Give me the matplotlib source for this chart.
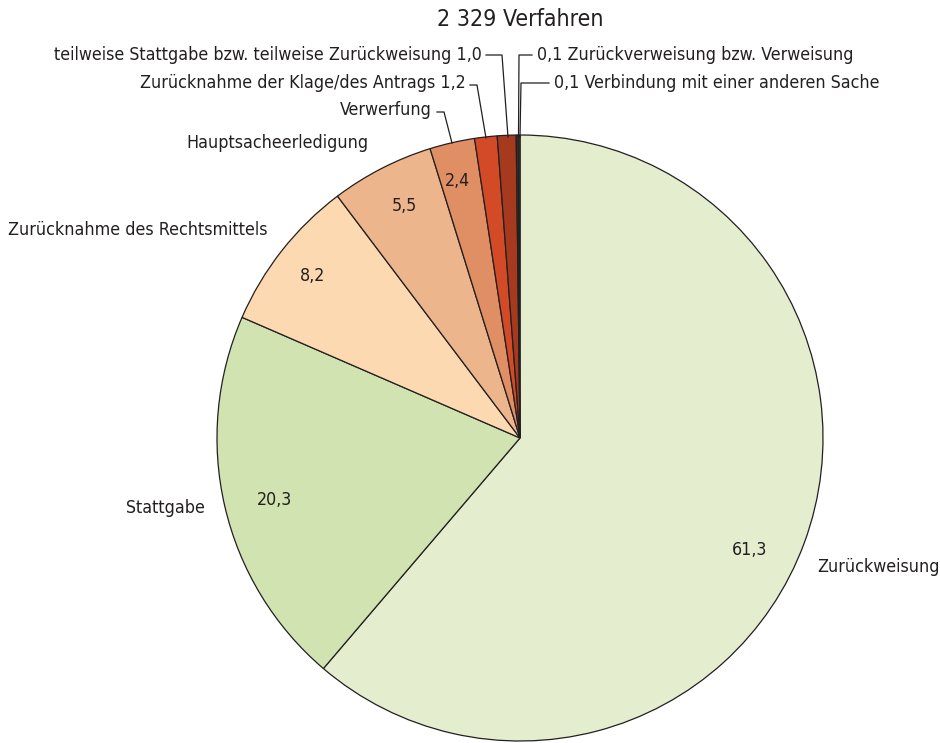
import matplotlib
matplotlib.use("Agg")
import matplotlib.pyplot as plt
from matplotlib import font_manager

# Erledigungsarten, Anteile in Prozent
categories = ["Zurückweisung", "Stattgabe", "Zurücknahme des Rechtsmittels",
              "Hauptsacheerledigung", "Verwerfung",
              "Zurücknahme der Klage/des Antrags",
              "teilweise Stattgabe bzw. teilweise Zurückweisung",
              "Zurückverweisung bzw. Verweisung",
              "Verbindung mit einer anderen Sache"]
shares = [61.3, 20.3, 8.2, 5.5, 2.4, 1.2, 1.0, 0.1, 0.1]
colors = ["#e4eece", "#d0e3b1", "#fcd9b1", "#ecb58c", "#e08e63",
          "#d34a27", "#a63a1f", "#5c4a32", "#4a3f2c"]
total_label = "2 329 Verfahren"

# schmale Schrift suchen
narrow = None
for key in ["LiberationSansNarrow-Regular", "DejaVuSansCondensed.", "Condensed-Regular",
            "Narrow-Regular"]:
    for f in font_manager.fontManager.ttflist:
        if key in f.fname:
            narrow = f.fname
            break
    if narrow:
        break
if narrow:
    font_manager.fontManager.addfont(narrow)
    fam = font_manager.FontProperties(fname=narrow).get_name()
    plt.rcParams["font.family"] = [fam, "DejaVu Sans"]
    if "DejaVuSansCondensed" in narrow:
        plt.rcParams["font.stretch"] = "condensed"
txtc = "#231f20"

W, H = 940, 743
fig = plt.figure(figsize=(W / 100, H / 100), dpi=100)
ax = fig.add_axes([0, 0, 1, 1])

# Schriftgröße an die Breite der längsten Beschriftung anpassen
probe = fig.text(0, 0, f"{categories[6]} 1,0", fontsize=10)
fig.canvas.draw()
wid = probe.get_window_extent().width
probe.remove()
fs = 10 * 427 / wid

cx, cy, r = 520, H - 438, 303
ax.pie(shares, colors=colors, startangle=90, counterclock=False,
       center=(cx, cy), radius=r, frame=True,
       wedgeprops=dict(edgecolor=txtc, linewidth=0.9))
ax.set_xlim(0, W)
ax.set_ylim(0, H)
ax.axis("off")

def fmt(v):
    return f"{v:.1f}".replace(".", ",")

# Werte innerhalb der großen Segmente
inner = {0: (750, 550), 1: (275, 500), 2: (313, 276), 3: (404, 206), 4: (457, 181)}
for i, (x, y) in inner.items():
    ax.text(x, H - y, fmt(shares[i]), fontsize=fs, color=txtc,
            ha="center", va="center")

# Beschriftungen außerhalb
ax.text(817, H - 567, categories[0], fontsize=fs, color=txtc, ha="left", va="center")
ax.text(205, H - 508, categories[1], fontsize=fs, color=txtc, ha="right", va="center")
ax.text(268, H - 230, categories[2], fontsize=fs, color=txtc, ha="right", va="center")
ax.text(368, H - 143, categories[3], fontsize=fs, color=txtc, ha="right", va="center")

# kleine Segmente mit Führungslinien
lw = 0.9
ax.text(432, H - 110, categories[4], fontsize=fs, color=txtc, ha="right", va="center")
ax.plot([437, 444, 452], [H - 112, H - 112, H - 143], color=txtc, lw=lw)

ax.text(466, H - 83, f"{categories[5]} {fmt(shares[5])}", fontsize=fs,
        color=txtc, ha="right", va="center")
ax.plot([470, 477, 486], [H - 85, H - 85, H - 138], color=txtc, lw=lw)

ax.text(482, H - 55, f"{categories[6]} {fmt(shares[6])}", fontsize=fs,
        color=txtc, ha="right", va="center")
ax.plot([486, 502, 508], [H - 55, H - 55, H - 137], color=txtc, lw=lw)

ax.text(537, H - 55, f"{fmt(shares[7])} {categories[7]}", fontsize=fs,
        color=txtc, ha="left", va="center")
ax.plot([532, 519, 518.5], [H - 55, H - 55, H - 137], color=txtc, lw=lw)

ax.text(554, H - 83, f"{fmt(shares[8])} {categories[8]}", fontsize=fs,
        color=txtc, ha="left", va="center")
ax.plot([549, 521, 520], [H - 83, H - 83, H - 137], color=txtc, lw=lw)

ax.text(520, H - 20, total_label, fontsize=fs * 1.3, color=txtc, ha="center", va="center")

fig.savefig("out.png", dpi=100)
